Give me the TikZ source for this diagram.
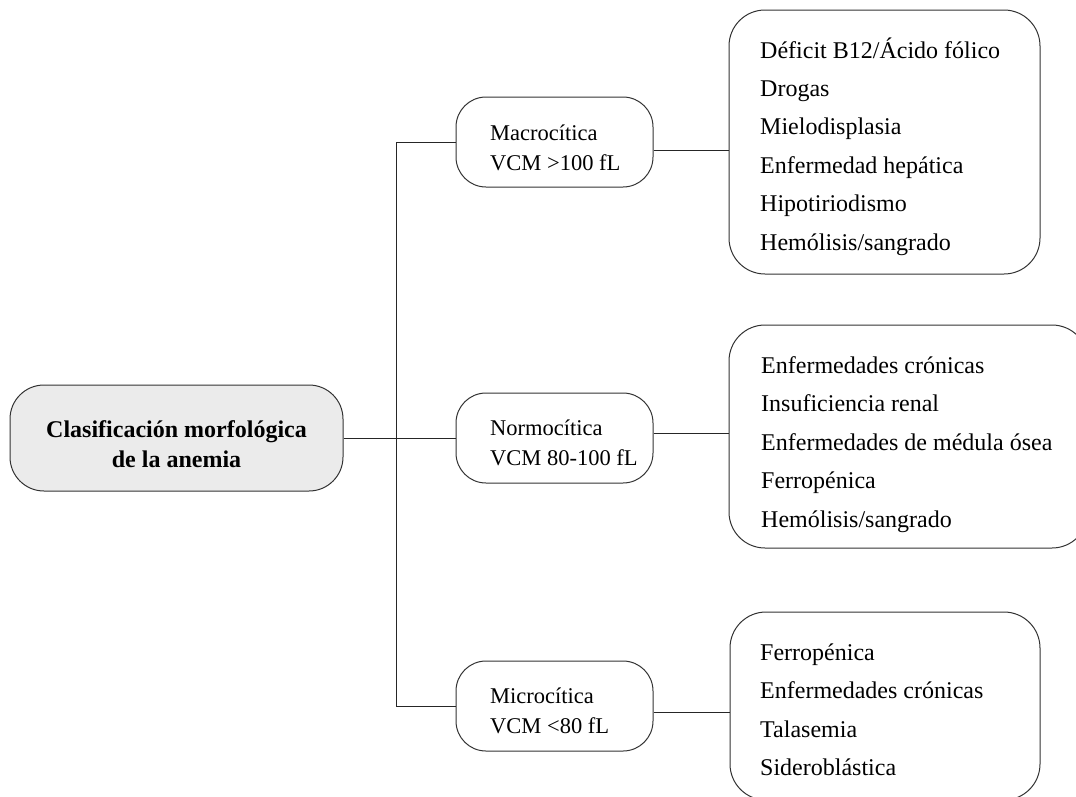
\documentclass[tikz,border=0pt]{standalone}
\usepackage{fontspec}
\setmainfont{Liberation Serif}
\begin{document}
\begin{tikzpicture}[x=1pt,y=-1pt,
  box/.style={draw=black!80, line width=1pt, rounded corners=30pt, inner sep=0pt},
  txt/.style={anchor=base west, inner sep=0pt, font=\fontsize{24}{28}\selectfont},
  midtxt/.style={txt, font=\fontsize{22.5}{27}\selectfont},
  link/.style={draw=black!85, line width=1pt}]
\useasboundingbox (0,0) rectangle (1076,796);
\clip (0,0) rectangle (1076,796);

% root
\node[box, fill=black!8, rounded corners=34pt, minimum width=333pt, minimum height=106pt] (root) at (176.5,438) {};
\node[txt, anchor=base, font=\fontsize{24}{28}\selectfont\bfseries] (rootA) at (176.5,437) {Clasificación morfológica};
\node[txt, anchor=base, font=\fontsize{24}{28}\selectfont\bfseries] (rootB) at (176.5,467) {de la anemia};

% middle column
\node[box, minimum width=197pt, minimum height=90pt] (mac) at (554.5,142) {};
\node[box, minimum width=197pt, minimum height=90pt] (nor) at (554.5,438) {};
\node[box, minimum width=197pt, minimum height=90pt] (mic) at (554.5,706) {};
\node[midtxt] (macA) at (490,140) {Macrocítica};
\node[midtxt] (macB) at (490,170) {VCM >100 fL};
\node[midtxt] (norA) at (490,435) {Normocítica};
\node[midtxt] (norB) at (490,465) {VCM 80-100 fL};
\node[midtxt] (micA) at (490,703) {Microcítica};
\node[midtxt] (micB) at (490,733) {VCM <80 fL};

% right column
\node[box, rounded corners=36pt, minimum width=311pt, minimum height=264pt] (rt) at (884.5,142) {};
\node[box, rounded corners=36pt, minimum width=359pt, minimum height=223pt] (rm) at (908.5,436.5) {};
\node[box, rounded corners=36pt, minimum width=310pt, minimum height=188pt] (rb) at (885,706) {};

\foreach \t [count=\i] in {Déficit B12/Ácido fólico, Drogas, Mielodisplasia, Enfermedad hepática, Hipotiriodismo, Hemólisis/sangrado}
  \node[txt] (rt\i) at (760,{58+38.4*(\i-1)}) {\t};
\foreach \t [count=\i] in {Enfermedades crónicas, Insuficiencia renal, Enfermedades de médula ósea, Ferropénica, Hemólisis/sangrado}
  \node[txt] (rm\i) at (761,{373+38.5*(\i-1)}) {\t};
\foreach \t [count=\i] in {Ferropénica, Enfermedades crónicas, Talasemia, Sideroblástica}
  \node[txt] (rb\i) at (760,{660+38.5*(\i-1)}) {\t};

% connectors
\coordinate (trunk) at (396,438);
\draw[link] (root.east) -- (nor.west);
\draw[link] (mac.west) -- (mac.west -| trunk) -- (mic.west -| trunk) -- (mic.west);
\draw[link] ([yshift=-8pt]mac.east) -- ([yshift=-8pt]mac.east -| rt.west);
\draw[link] ([yshift=5pt]nor.east) -- ([yshift=5pt]nor.east -| rm.west);
\draw[link] ([yshift=-6pt]mic.east) -- ([yshift=-6pt]mic.east -| rb.west);
\end{tikzpicture}
\end{document}
